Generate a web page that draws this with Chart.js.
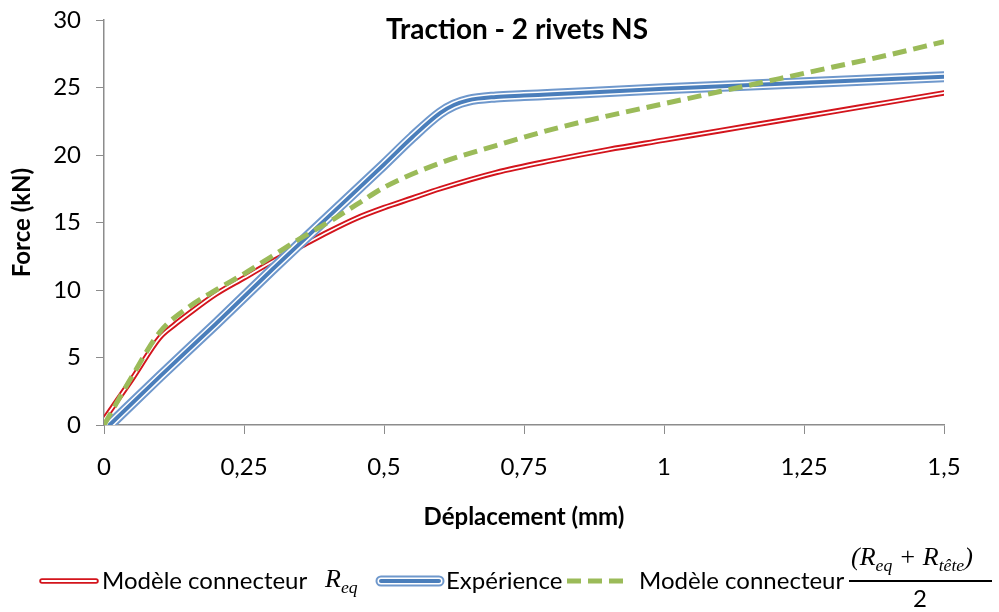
<!DOCTYPE html>
<html>
<head>
<meta charset="utf-8">
<script src="https://cdn.jsdelivr.net/npm/chart.js@4.4.0/dist/chart.umd.min.js"></script>
<style>
  body { margin: 0; background: #fff; font-family: Lato, "Noto Sans", sans-serif; }
  #wrap { position: relative; width: 999px; height: 612px; }
  #legend { position: absolute; left: 0; top: 540px; width: 999px; height: 72px; font-size: 24px; color: #000; }
  #legend .it { position: absolute; white-space: nowrap; }
  .m { font-family: "Liberation Serif", "DejaVu Serif", serif; font-style: italic; font-size: 26px; }
  .m sub { font-size: 0.68em; }
</style>
</head>
<body>
<div id="wrap">
  <canvas id="chart" width="999" height="612"></canvas>
  <div id="legend">
    <svg class="it" style="left:38px;top:36px" width="62" height="10">
      <line x1="4" y1="5" x2="58" y2="5" stroke="#d3141c" stroke-width="5.5" stroke-linecap="round"/>
      <line x1="4" y1="5" x2="58" y2="5" stroke="#fff" stroke-width="1.8" stroke-linecap="round"/>
    </svg>
    <span class="it" style="left:102px;top:25px">Modèle connecteur</span>
    <span class="it m" style="left:325px;top:24px">R<sub>eq</sub></span>
    <svg class="it" style="left:374px;top:34px" width="72" height="14">
      <line x1="7" y1="7" x2="65" y2="7" stroke="#6f98cc" stroke-width="11" stroke-linecap="round"/>
      <line x1="7" y1="7" x2="65" y2="7" stroke="#fff" stroke-width="7" stroke-linecap="round"/>
      <line x1="7" y1="7" x2="65" y2="7" stroke="#4a7ebb" stroke-width="4" stroke-linecap="round"/>
    </svg>
    <span class="it" style="left:446px;top:25px">Expérience</span>
    <svg class="it" style="left:565px;top:36px" width="66" height="10">
      <line x1="2" y1="5" x2="64" y2="5" stroke="#9bbb59" stroke-width="5" stroke-dasharray="14 7"/>
    </svg>
    <span class="it" style="left:639px;top:25px">Modèle connecteur</span>
    <span class="it m" style="left:851px;top:2px">(R<sub>eq</sub> + R<sub>tête</sub>)</span>
    <div class="it" style="left:849px;top:40px;width:143px;height:2px;background:#000"></div>
    <span class="it" style="left:913px;top:43px">2</span>
  </div>
</div>
<script>
// Modèle connecteur Req
const redX = [0, 0.05, 0.1, 0.125, 0.15, 0.2, 0.25, 0.3, 0.35, 0.4, 0.45, 0.5, 0.55, 0.6, 0.7, 0.8, 0.9, 1.0, 1.1, 1.2, 1.3, 1.4, 1.5];
const redY = [0.4, 3.4, 6.5, 7.4, 8.2, 9.7, 10.9, 12.1, 13.2, 14.3, 15.3, 16.1, 16.8, 17.5, 18.7, 19.6, 20.4, 21.1, 21.8, 22.5, 23.2, 23.9, 24.6];
// Expérience
const blueX = [0.01, 0.1, 0.2, 0.3, 0.4, 0.5, 0.55, 0.6, 0.625, 0.65, 0.7, 0.75, 0.8, 1.0, 1.25, 1.5];
const blueY = [0, 3.6, 7.5, 11.5, 15.4, 19.3, 21.3, 23.1, 23.7, 24.05, 24.3, 24.4, 24.5, 24.9, 25.35, 25.8];
// Modèle connecteur (Req + Rtête)/2
const greenX = [0, 0.05, 0.1, 0.15, 0.2, 0.25, 0.3, 0.35, 0.4, 0.45, 0.5, 0.6, 0.7, 0.8, 0.9, 1.0, 1.1, 1.2, 1.3, 1.4, 1.5];
const greenY = [0, 3.6, 6.9, 8.7, 10.0, 11.2, 12.5, 13.8, 15.0, 16.3, 17.6, 19.4, 20.7, 21.9, 22.9, 23.8, 24.7, 25.6, 26.5, 27.4, 28.4];

const xTicks = [0, 0.25, 0.5, 0.75, 1, 1.25, 1.5];
const title = 'Traction - 2 rivets NS';
const axisGray = '#8c8c8c';

function pts(xs, ys) {
  return xs.map(function(x, i) { return {x: x, y: ys[i]}; });
}

function line(xs, ys, color, width, extra) {
  return Object.assign({
    data: pts(xs, ys),
    borderColor: color,
    borderWidth: width,
    pointRadius: 0,
    fill: false,
    cubicInterpolationMode: 'monotone',
    borderCapStyle: 'round',
    borderJoinStyle: 'round'
  }, extra || {});
}

// datasets with lower order are drawn on top
const datasets = [
  line(greenX, greenY, '#9bbb59', 5, {order: 0, borderDash: [14, 7], borderCapStyle: 'butt'}),
  line(blueX, blueY, '#4a7ebb', 4, {order: 1}),
  line(blueX, blueY, '#ffffff', 7, {order: 2}),
  line(blueX, blueY, '#6f98cc', 11, {order: 3}),
  line(redX, redY, '#ffffff', 1.7, {order: 4}),
  line(redX, redY, '#d3141c', 5.5, {order: 5})
];

const titlePlugin = {
  id: 'innerTitle',
  afterDraw: function(chart) {
    const ctx = chart.ctx;
    ctx.save();
    ctx.font = 'bold 28px Lato';
    ctx.fillStyle = '#000';
    ctx.textAlign = 'center';
    ctx.textBaseline = 'middle';
    ctx.fillText(title, 517, 30);
    ctx.restore();
  }
};

new Chart(document.getElementById('chart'), {
  type: 'line',
  data: {datasets: datasets},
  plugins: [titlePlugin],
  options: {
    responsive: false,
    animation: false,
    layout: {padding: {top: 20, right: 55, left: 0, bottom: 0}},
    plugins: {legend: {display: false}, tooltip: {enabled: false}},
    scales: {
      x: {
        type: 'linear',
        min: 0, max: 1.5,
        afterBuildTicks: function(scale) {
          scale.ticks = xTicks.map(function(v) { return {value: v}; });
        },
        afterFit: function(scale) {
          scale.height = 187;
          scale.paddingLeft = 0;
          scale.paddingRight = 0;
        },
        border: {color: axisGray, width: 1.5},
        grid: {drawOnChartArea: false, drawTicks: true, tickLength: 9, color: axisGray},
        ticks: {
          color: '#000', padding: 19,
          font: {family: 'Lato', size: 24},
          maxRotation: 0,
          callback: function(v) { return String(v).replace('.', ','); }
        },
        title: {display: true, text: 'Déplacement (mm)', color: '#000',
          font: {family: 'Lato', size: 24, weight: 'bold'}, padding: {top: 0, bottom: 80}}
      },
      y: {
        min: 0, max: 30,
        afterFit: function(scale) {
          scale.width = 104;
          scale.paddingTop = 0;
          scale.paddingBottom = 0;
        },
        border: {color: axisGray, width: 1.5},
        grid: {drawOnChartArea: false, drawTicks: true, tickLength: 8, color: axisGray},
        ticks: {color: '#000', padding: 15, stepSize: 5, font: {family: 'Lato', size: 24}},
        title: {display: true, text: 'Force (kN)', color: '#000',
          font: {family: 'Lato', size: 24, weight: 'bold'}, padding: {top: 8, bottom: 0}}
      }
    }
  }
});
</script>
</body>
</html>
